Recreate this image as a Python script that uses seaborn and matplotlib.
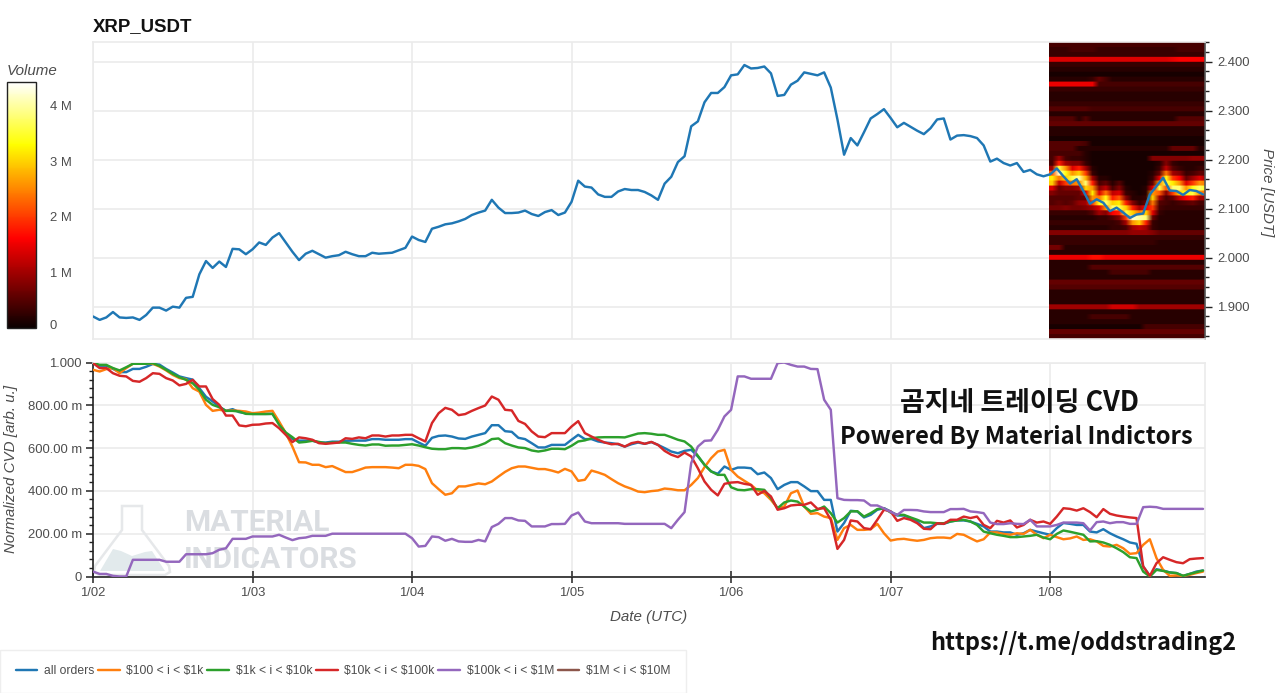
import numpy as np
import pandas as pd
import seaborn as sns
import matplotlib
matplotlib.use("Agg")
import matplotlib.pyplot as plt
import matplotlib.dates as mdates
from matplotlib.lines import Line2D
from matplotlib.patches import Polygon
from matplotlib.ticker import MultipleLocator, FuncFormatter, FixedLocator

price = [1.880,1.873,1.878,1.889,1.878,1.877,1.878,1.873,1.883,1.898,1.898,1.892,1.900,1.898,1.918,1.920,1.966,1.993,1.979,1.992,1.981,2.018,2.017,2.007,2.017,2.031,2.026,2.041,2.050,2.031,2.012,1.995,2.008,2.014,2.007,2.000,2.003,2.005,2.012,2.007,2.003,2.003,2.010,2.008,2.009,2.010,2.015,2.020,2.043,2.036,2.032,
2.059,2.063,2.068,2.070,2.074,2.079,2.087,2.092,2.096,2.118,2.102,2.091,2.091,2.092,2.096,2.089,2.085,2.093,2.097,2.087,2.092,2.114,2.157,2.145,2.143,2.129,2.124,2.124,2.135,2.140,2.138,2.138,2.134,2.127,2.118,2.151,2.165,2.195,2.207,2.268,2.278,2.317,2.336,2.336,2.348,2.372,2.374,2.393,2.386,2.387,2.390,2.376,2.330,2.332,2.353,2.361,2.378,2.375,2.372,2.378,2.347,2.282,2.210,
2.244,2.229,2.256,2.284,2.293,2.303,2.285,2.266,2.275,2.267,2.259,2.252,2.264,2.282,2.284,2.241,2.249,2.250,2.248,2.244,2.229,2.196,2.202,2.193,2.188,2.193,2.175,2.179,2.170,2.166,2.170,2.182,2.166,2.151,2.160,2.136,2.110,2.119,2.112,2.095,2.102,2.092,2.081,2.088,2.090,2.129,2.146,2.163,2.137,2.136,2.128,2.138,2.136,2.129]

all_orders = [1.0,.985,.985,.97,.955,.955,.97,.97,.98,.993,.99,.97,.953,.935,.927,.92,.88,.84,.818,.794,.774,.782,.768,.763,.76,.76,.76,.76,.716,.67,.643,.635,.635,.635,.626,.626,.63,.63,.634,.635,.635,.635,.642,.642,.639,.639,.639,.642,
.642,.626,.611,.648,.657,.659,.654,.645,.643,.654,.662,.670,.707,.707,.679,.676,.648,.642,.623,.603,.603,.615,.615,.615,.639,.662,.642,.642,.631,.626,.623,.618,.607,.618,.626,.620,.628,.615,.600,.584,.576,.587,.592,.561,.522,.491,.480,.514,.498,.509,.509,.506,.478,.486,.460,.408,.428,.441,.441,.421,.399,.399,.358,
.358,.21,.25,.307,.304,.276,.288,.312,.319,.304,.285,.285,.273,.257,.226,.234,.246,.246,.257,.262,.262,.257,.246,.234,.21,.21,.206,.206,.195,.202,.218,.21,.202,.195,.226,.25,.246,.241,.241,.21,.206,.221,.202,.187,.174,.159,.153,.047,.003,.034,.028,.019,.016,.003,.012,.023,.028]
tier_100_1k = [.966,.958,.969,.974,.95,.974,.994,.997,.997,.994,.981,.963,.942,.927,.922,.88,.864,.802,.774,.779,.774,.776,.774,.771,.763,.766,.771,.774,.724,.67,.607,.534,.533,.522,.522,.511,.516,.502,.488,.488,.498,.509,.511,.511,.511,.509,.506,.522,
.522,.517,.502,.436,.408,.382,.389,.421,.421,.428,.435,.431,.444,.467,.489,.506,.514,.514,.508,.502,.502,.495,.486,.503,.491,.447,.452,.495,.486,.475,.455,.436,.421,.41,.397,.394,.399,.402,.411,.408,.403,.403,.428,.46,.511,.553,.584,.592,.498,.467,.447,.428,.402,.389,.358,.319,.327,.389,.402,.327,.293,.296,.28,
.273,.171,.226,.241,.218,.218,.221,.246,.202,.168,.174,.176,.171,.167,.171,.179,.182,.182,.179,.199,.195,.179,.164,.174,.206,.206,.199,.195,.202,.199,.218,.195,.179,.195,.184,.174,.178,.187,.171,.174,.164,.143,.14,.148,.132,.106,.109,.148,.174,.086,.031,.003,.005,.003,.008,.016,.023]
tier_1k_10k = [.997,.989,.989,.974,.963,.978,.994,.994,.994,.997,.984,.966,.947,.931,.919,.903,.872,.826,.802,.791,.774,.774,.771,.76,.759,.759,.759,.76,.709,.673,.651,.626,.629,.634,.629,.623,.626,.626,.626,.62,.615,.612,.617,.617,.611,.612,.612,.615,
.618,.612,.604,.597,.595,.595,.6,.6,.598,.603,.611,.623,.642,.645,.623,.612,.603,.6,.589,.584,.589,.597,.597,.595,.611,.631,.636,.646,.65,.651,.651,.651,.65,.659,.668,.67,.667,.662,.662,.651,.639,.631,.607,.564,.522,.491,.475,.475,.417,.405,.403,.408,.408,.405,.366,.319,.346,.355,.35,.327,.304,.312,.327,
.296,.252,.273,.304,.305,.28,.296,.315,.319,.299,.288,.288,.276,.265,.252,.252,.249,.249,.257,.262,.265,.257,.241,.21,.202,.195,.19,.184,.184,.187,.19,.195,.182,.174,.199,.215,.209,.202,.195,.164,.165,.159,.148,.132,.114,.09,.086,.023,0,.031,.026,.019,.016,.003,.012,.02,.028]
tier_10k_100k = [.997,.974,.974,.95,.938,.935,.914,.91,.927,.95,.947,.927,.916,.893,.9,.919,.888,.888,.829,.802,.752,.752,.706,.702,.709,.71,.715,.717,.693,.662,.628,.65,.646,.639,.623,.62,.623,.626,.646,.643,.65,.646,.659,.659,.654,.659,.659,.662,
.662,.646,.631,.717,.763,.788,.779,.754,.759,.774,.787,.799,.841,.826,.779,.776,.727,.713,.678,.654,.651,.67,.67,.67,.701,.726,.67,.654,.639,.626,.618,.62,.607,.623,.629,.62,.629,.615,.587,.569,.558,.579,.561,.506,.444,.405,.379,.433,.439,.441,.433,.428,.382,.4,.374,.312,.319,.332,.335,.335,.346,.316,.319,
.265,.129,.171,.262,.257,.226,.221,.265,.312,.304,.26,.273,.265,.249,.223,.221,.249,.246,.265,.265,.28,.273,.28,.241,.226,.26,.252,.262,.229,.241,.265,.252,.257,.246,.28,.319,.316,.308,.319,.301,.277,.315,.293,.285,.28,.276,.273,.047,.003,.062,.09,.078,.067,.062,.081,.084,.086]
tier_100k_1m = [.023,.012,.012,.003,0,0,.078,.078,.078,.078,.078,.069,.069,.069,.104,.104,.104,.104,.109,.125,.132,.176,.176,.176,.187,.187,.187,.187,.195,.182,.17,.179,.182,.19,.19,.19,.2,.2,.2,.2,.2,.2,.2,.2,.2,.2,.2,.2,
.179,.14,.143,.187,.184,.167,.176,.164,.162,.162,.171,.164,.231,.246,.273,.273,.262,.26,.234,.234,.234,.245,.245,.246,.285,.299,.257,.249,.249,.249,.249,.249,.246,.246,.246,.246,.246,.246,.246,.226,.265,.301,.53,.607,.634,.636,.685,.748,.779,.935,.935,.924,.924,.924,.924,.997,1.0,.989,.981,.981,.97,.969,.826,
.779,.366,.358,.357,.357,.355,.332,.332,.318,.302,.288,.311,.311,.31,.304,.301,.301,.301,.315,.315,.316,.304,.301,.296,.252,.245,.245,.249,.246,.245,.265,.234,.234,.234,.241,.252,.252,.252,.249,.215,.254,.257,.249,.254,.254,.246,.246,.324,.326,.324,.316,.316,.316,.316,.316,.316,.316]

series_labels = [r"all orders", r"\$100 < i < \$1k", r"\$1k < i < \$10k", r"\$10k < i < \$100k", r"\$100k < i < \$1M", r"\$1M < i < \$10M"]
series_colors = ["#1f77b4", "#ff7f0e", "#2ca02c", "#d62728", "#9467bd", "#8c564b"]
date_ticks = ["2025-01-02","2025-01-03","2025-01-04","2025-01-05","2025-01-06","2025-01-07","2025-01-08"]
price_ticks = [1.9, 2.0, 2.1, 2.2, 2.3, 2.4]
cvd_ticks = [0, .2, .4, .6, .8, 1.0]
cvd_tick_labels = ["0", "200.00 m", "400.00 m", "600.00 m", "800.00 m", "1.000"]
volume_ticks = [1, 2, 3, 4]

# order-book volume by price row (top to bottom), one entry per hour of 01/08, in 0.1 M
volume_tenths = [
[4]*24,
[3,3,3,4,4,4,4,3,3,3,3,3,3,3,3,3,3,3,3,4,4,4,4,4],
[3]*24,
[14,14,14,14,14,14,14,14,14,14,14,14,14,14,14,14,14,14,15,16,16,16,16,16],
[3]*24,
[2]*24,
[1]*24,
[2,2,2,2,2,2,3,6,4,2,2,2,2,2,2,2,2,2,2,2,2,2,2,2],
[15,15,15,15,15,15,15,4,4,4,4,4,4,4,4,4,4,4,4,4,4,4,4,4],
[3]*24,
[2]*24,
[2]*24,
[3]*24,
[5,5,5,5,5,5,4,4,4,4,4,4,4,4,4,4,4,4,4,4,4,4,4,4],
[2]*24,
[5,5,5,5,2,5,2,2,2,2,2,2,2,2,2,2,2,2,2,5,5,5,5,5],
[6]*24,
[2]*24,
[2]*24,
[1]*24,
[5,5,5,5,5,4,1,1,1,1,1,1,1,1,1,1,1,1,1,1,1,1,1,1],
[5,5,5,5,2,2,2,2,2,2,2,2,2,2,2,2,2,2,6,6,6,6,2,2],
[4,4,4,4,4,2,1,1,1,1,1,1,1,1,1,1,1,1,1,1,1,1,1,1],
[4,10,4,3,3,2,1,1,1,1,1,1,1,1,1,8,8,8,8,8,8,9,9,9],
[4,18,10,8,8,3,1,1,1,1,1,1,1,1,1,1,2,8,3,2,2,2,2,2],
[10,36,26,14,18,10,2,1,1,1,1,1,1,1,1,1,3,12,5,3,2,2,3,3],
[22,42,34,26,30,20,3,1,1,1,1,1,1,1,1,2,6,24,10,8,3,4,6,5],
[32,24,30,36,40,28,10,2,2,1,1,1,1,1,1,3,14,34,20,16,6,10,14,10],
[30,12,20,24,26,38,18,4,6,2,5,1,1,1,1,6,26,36,32,26,14,20,26,24],
[14,6,8,8,10,30,26,8,12,4,8,2,1,1,2,14,36,22,38,38,26,34,38,34],
[8,6,6,6,6,14,32,14,24,12,14,3,2,1,2,26,22,8,20,30,34,36,26,22],
[5,5,5,5,6,6,26,24,34,18,22,8,2,2,3,30,10,4,6,12,16,18,10,10],
[5,6,5,6,9,10,20,34,38,30,32,18,8,3,6,24,5,4,3,4,5,6,4,4],
[7,7,8,7,7,8,10,14,26,38,36,30,18,10,16,20,4,3,3,3,3,3,3,3],
[3,3,3,3,3,3,5,10,8,16,18,36,30,24,30,14,3,2,2,2,2,2,2,2],
[2,2,2,2,2,2,2,3,3,5,8,20,42,40,38,6,2,2,2,2,2,2,2,2],
[3,3,3,3,3,3,3,3,3,3,4,10,26,30,18,3,2,2,2,2,2,2,2,2],
[2,2,2,2,2,2,2,2,2,3,3,4,10,12,10,3,2,2,2,2,2,2,2,2],
[8,8,8,8,8,8,8,8,8,8,8,8,9,9,9,8,6,6,6,6,6,6,6,6],
[3]*24,
[3,3,3,3,3,3,3,3,3,3,3,3,3,3,3,3,2,2,2,2,2,2,2,2],
[7,7,2,2,2,2,2,2,2,2,2,2,2,2,2,2,2,2,2,2,2,2,2,2],
[2]*24,
[15,15,15,15,15,15,17,17,15,15,15,15,15,15,15,15,15,15,15,15,15,15,15,15],
[2]*24,
[2,2,2,2,2,2,5,5,5,5,5,5,5,5,5,5,5,5,5,5,5,5,5,5],
[2,2,2,2,2,2,2,2,2,4,4,4,4,4,4,2,2,2,2,2,2,2,2,2],
[2]*24,
[6]*24,
[5]*24,
[2]*24,
[2]*24,
[2]*24,
[10,10,10,10,10,10,10,10,10,13,13,13,13,10,10,10,10,10,10,10,10,10,10,10],
[2]*24,
[2,2,2,2,2,2,4,4,4,4,4,4,2,2,2,2,2,2,2,2,2,2,2,2],
[2]*24,
[1,1,1,1,1,1,1,1,1,1,1,1,1,1,4,4,4,4,4,4,4,4,4,4],
[6]*24,
[4]*24,
]

for name, s in [("price", price), ("a", all_orders), ("b", tier_100_1k), ("c", tier_1k_10k), ("d", tier_10k_100k), ("e", tier_100k_1m)]:
    assert len(s) == 168, (name, len(s))
assert len(volume_tenths) == 60

W, H = 1280, 693
sns.set_theme(style="white")
plt.rcParams["font.family"] = ["Liberation Sans", "Noto Sans CJK KR", "DejaVu Sans"]
GRID = "#ebebeb"
TXT = "#4d4d4d"

fig = plt.figure(figsize=(W / 100, H / 100), dpi=100, facecolor="white")

def rect(l, t, r, b):
    return [l / W, 1 - b / H, (r - l) / W, (b - t) / H]

def px(x, y):
    return (x / W, 1 - y / H)

times = pd.date_range("2025-01-02", periods=168, freq="h")
x_end = times[0] + pd.Timedelta(hours=167.3)

ax1 = fig.add_axes(rect(93, 42, 1205, 339))
ax2 = fig.add_axes(rect(93, 362.5, 1205, 576.5))

# price panel
vol = np.repeat(np.array(volume_tenths, dtype=float) / 10, 5, axis=0)
xs = mdates.date2num([times[144] - pd.Timedelta(minutes=8), times[144] + pd.Timedelta(hours=24)])
ax1.imshow(vol, cmap="hot", vmin=0, vmax=4.43, aspect="auto", interpolation="bilinear",
           extent=[xs[0], xs[1], 1.834, 2.44], zorder=1)
sns.lineplot(x=times, y=price, color=series_colors[0], linewidth=1.75, ax=ax1, zorder=3)
ax1.set_xlim(times[0], x_end)
ax1.set_ylim(1.834, 2.44)
ax1.yaxis.tick_right()
ax1.yaxis.set_major_locator(FixedLocator(price_ticks))
ax1.yaxis.set_minor_locator(MultipleLocator(0.02))
ax1.yaxis.set_major_formatter(FuncFormatter(lambda v, _: f"{v:.3f}"))
ax1.xaxis.set_major_locator(FixedLocator(mdates.date2num(pd.to_datetime(date_ticks))))
ax1.tick_params(axis="x", length=0, labelbottom=False)
ax1.tick_params(axis="y", which="major", right=True, length=5, width=1, color="#222222", labelsize=9.4, labelcolor=TXT, pad=4)
ax1.tick_params(axis="y", which="minor", right=True, length=3, width=1, color="#222222")
ax1.set_xlabel(""); ax1.set_ylabel("")
ax1.grid(True, which="major", color=GRID, linewidth=1.2)
ax1.set_axisbelow(True)
for s in ax1.spines.values():
    s.set_color(GRID); s.set_linewidth(1.2)
ax1.spines["right"].set_color("#555555")

# CVD panel
cvd_names = series_labels[:5]
cvd_frame = pd.DataFrame({
    "time": np.tile(times, 5),
    "cvd": np.concatenate([all_orders, tier_100_1k, tier_1k_10k, tier_10k_100k, tier_100k_1m]),
    "tier": np.repeat(cvd_names, 168),
})
sns.lineplot(data=cvd_frame, x="time", y="cvd", hue="tier", hue_order=cvd_names,
             palette=series_colors[:5], linewidth=1.75, estimator=None, errorbar=None,
             legend=False, ax=ax2, zorder=3)
ax2.set_xlim(times[0], x_end)
ax2.set_ylim(0, 1)
ax2.xaxis.set_major_locator(FixedLocator(mdates.date2num(pd.to_datetime(date_ticks))))
ax2.xaxis.set_major_formatter(mdates.DateFormatter("%-m/%d"))
ax2.yaxis.set_major_locator(FixedLocator(cvd_ticks))
ax2.yaxis.set_major_formatter(FuncFormatter(lambda v, p: cvd_tick_labels[p] if p is not None and p < 6 else ""))
ax2.yaxis.set_minor_locator(MultipleLocator(0.04))
ax2.tick_params(axis="x", which="major", bottom=True, direction="inout", length=9, width=1.1, color="#222222", labelsize=9.4, labelcolor=TXT, pad=3)
ax2.tick_params(axis="y", which="major", left=True, length=5, width=1.1, color="#222222", labelsize=9.4, labelcolor=TXT, pad=3)
ax2.tick_params(axis="y", which="minor", left=True, length=3, width=1, color="#222222")
ax2.set_xlabel(""); ax2.set_ylabel("")
ax2.grid(True, which="major", color=GRID, linewidth=1.2)
ax2.set_axisbelow(True)
for side in ("top", "right"):
    ax2.spines[side].set_color(GRID); ax2.spines[side].set_linewidth(1.2)
for side in ("left", "bottom"):
    ax2.spines[side].set_color("#222222"); ax2.spines[side].set_linewidth(1.2)

# watermark
tr = fig.transFigure
flask = [(122,506),(142,506),(142,530),(169,566),(170,572),(165,575),(99,575),(94,572),(95,566),(122,530)]
ax2.add_patch(Polygon([px(*p) for p in flask], closed=True, transform=tr, fill=False, edgecolor="#e6e8ea", linewidth=1.8, zorder=1, clip_on=False))
hill = [(100,571),(113,549),(121,551),(132,556),(145,552),(152,551),(165,571)]
ax2.add_patch(Polygon([px(*p) for p in hill], closed=True, transform=tr, facecolor="#e2eaec", edgecolor="none", zorder=1, clip_on=False))
for label, y in (("MATERIAL", 523), ("INDICATORS", 560)):
    ax2.text(*px(184, y), label, transform=tr, family="Roboto", weight="bold",
             fontsize=21.5, color="#dadde1", ha="left", va="center", zorder=1)

# colour bar
cax = fig.add_axes(rect(7, 82, 36, 328))
sm = plt.cm.ScalarMappable(cmap="hot", norm=plt.Normalize(0, 4.43))
cb = fig.colorbar(sm, cax=cax)
cb.set_ticks(volume_ticks)
cb.set_ticklabels([f"{v} M" for v in volume_ticks])
cb.outline.set_edgecolor("#222222"); cb.outline.set_linewidth(1)
cax.tick_params(axis="y", direction="in", length=5, width=1, color="#111111", labelsize=9.4, labelcolor=TXT, pad=10)
fig.text(*px(49, 326), "0", fontsize=9.4, color=TXT, ha="left", va="center")

# labels
ital = dict(style="italic", fontsize=10.9, color=TXT)
fig.text(*px(7, 71), "Volume", ha="left", va="center", **ital)
fig.text(*px(11, 469), "Normalized CVD [arb. u.]", rotation=90, ha="center", va="center", **ital)
fig.text(*px(1267, 192), "Price [USDT]", rotation=270, ha="center", va="center", **ital)
fig.text(*px(649, 617), "Date (UTC)", ha="center", va="center", **ital)
fig.text(*px(93, 27), "XRP_USDT", fontsize=13.4, weight="bold", color="#111111", ha="left", va="center")

# overlay captions
cap = dict(family=["Noto Sans CJK KR", "DejaVu Sans"], weight="bold", color="#111111", ha="center", va="center")
fig.text(*px(1019, 403), "곰지네 트레이딩 CVD", fontsize=19.4, **cap)
fig.text(*px(1016, 437), "Powered By Material Indictors", fontsize=17.1, **cap)
fig.text(*px(1083, 643), "https://t.me/oddstrading2", fontsize=16.9, **cap)

# legend
handles = [Line2D([], [], color=c, linewidth=1.75) for c in series_colors]
fig.legend(handles, series_labels, loc="lower left", bbox_to_anchor=(0, 0), ncol=6, fontsize=8.7,
           handlelength=1.8, handletextpad=0.55, columnspacing=0.3, borderaxespad=0, borderpad=1.3,
           frameon=True, fancybox=False, edgecolor="#eeeeee", labelcolor=TXT, framealpha=1)

fig.savefig("out.png", dpi=100)
